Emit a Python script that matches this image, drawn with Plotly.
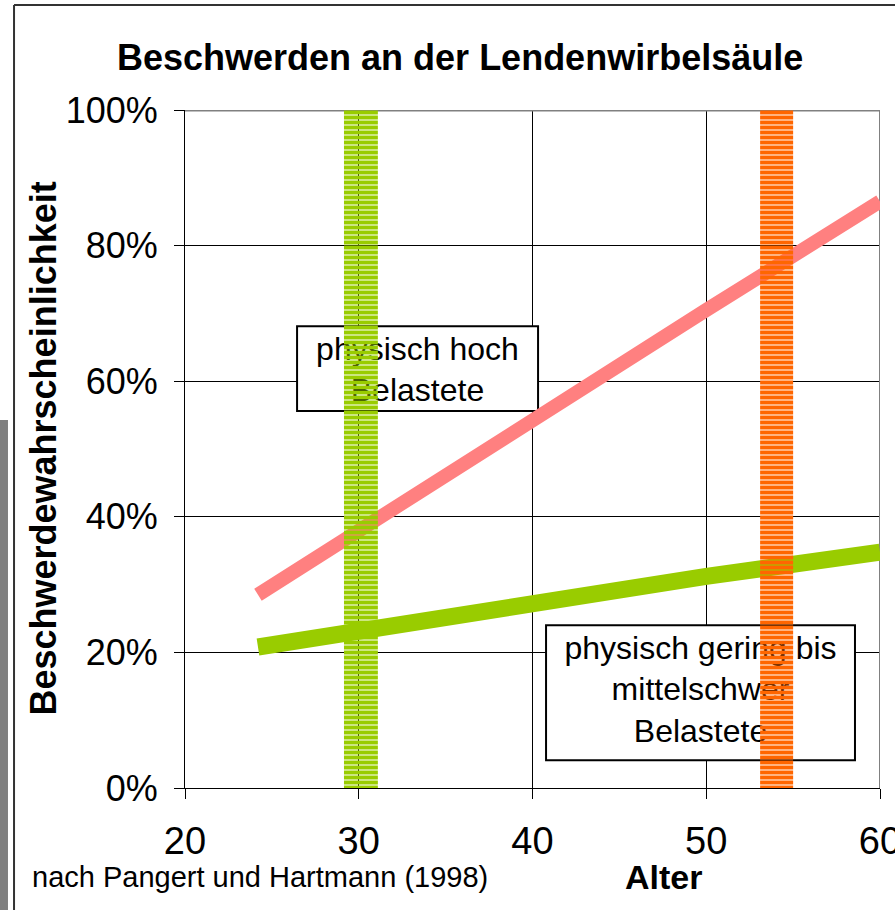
import plotly.graph_objects as go

# ---- data ----
age = [24.2, 30, 40, 50, 60]
high_load = [0.285, 0.38, 0.54, 0.705, 0.865]      # physisch hoch Belastete
low_load = [0.208, 0.232, 0.27, 0.312, 0.348]      # physisch gering bis mittelschwer Belastete
band_green = [29.15, 31.1]
band_orange = [53.1, 55.0]
x_ticks = [20, 30, 40, 50, 60]
y_ticks = [0, 0.2, 0.4, 0.6, 0.8, 1.0]

FONT = "Liberation Sans, Arial, sans-serif"
RED = "#FF8080"
GREEN = "#99CC00"
ORANGE = "#FF6600"

fig = go.Figure()

# text inside boxes
fig.add_trace(go.Scatter(
    x=[33.38, 49.67], y=[0.613, 0.141], mode="text",
    text=["physisch hoch<br>Belastete", "physisch gering bis<br>mittelschwer<br>Belastete"],
    textposition="middle center",
    textfont=dict(family=FONT, size=32, color="black"),
    hoverinfo="skip", showlegend=False))

# lines
fig.add_trace(go.Scatter(x=age, y=high_load, mode="lines",
                         line=dict(color=RED, width=14), showlegend=False))
fig.add_trace(go.Scatter(x=age, y=low_load, mode="lines",
                         line=dict(color=GREEN, width=17), showlegend=False))

# striped bands
for band, col in [(band_green, GREEN), (band_orange, ORANGE)]:
    fig.add_trace(go.Scatter(
        x=[band[0], band[1], band[1], band[0], band[0]],
        y=[-0.02, -0.02, 1.005, 1.005, -0.02],
        mode="none", fill="toself", fillcolor="rgba(0,0,0,0)",
        fillpattern=dict(shape="-", fgcolor=col, bgcolor="rgba(0,0,0,0)",
                         size=5, solidity=0.8, fillmode="replace"),
        hoverinfo="skip", showlegend=False))

shapes = [
    # text boxes
    dict(type="rect", xref="x", yref="y", x0=26.45, x1=40.32, y0=0.556, y1=0.681,
         fillcolor="white", line=dict(color="black", width=2), layer="between"),
    dict(type="rect", xref="x", yref="y", x0=40.78, x1=58.56, y0=0.041, y1=0.240,
         fillcolor="white", line=dict(color="black", width=2), layer="between"),
    # gray top/right border of plot area
    dict(type="line", xref="x", yref="y", x0=20, x1=60, y0=1, y1=1,
         line=dict(color="#808080", width=3), layer="between"),
    dict(type="line", xref="x", yref="y", x0=60, x1=60, y0=0, y1=1,
         line=dict(color="#808080", width=2), layer="between"),
    # outer frame
    dict(type="line", xref="paper", yref="paper", x0=-0.246, x1=1.03, y0=1.155, y1=1.155,
         line=dict(color="#333333", width=2)),
    dict(type="line", xref="paper", yref="paper", x0=-0.246, x1=-0.246, y0=1.155, y1=-0.2,
         line=dict(color="#333333", width=2)),
    # gray bar at left
    dict(type="rect", xref="paper", yref="paper", x0=-0.28, x1=-0.2547, y0=0.5428, y1=-0.2,
         fillcolor="#808080", line=dict(width=0)),
]

annotations = [
    dict(text="<b>Beschwerden an der Lendenwirbelsäule</b>", xref="paper", yref="paper",
         x=0.3957, y=1.078, xanchor="center", yanchor="middle", showarrow=False,
         font=dict(family=FONT, size=36, color="black")),
    dict(text="<b>Beschwerdewahrscheinlichkeit</b>", xref="paper", yref="paper",
         x=-0.204, y=0.501, xanchor="center", yanchor="middle", textangle=-90, showarrow=False,
         font=dict(family=FONT, size=36, color="black")),
    dict(text="<b>Alter</b>", xref="paper", yref="paper",
         x=0.689, y=-0.131, xanchor="center", yanchor="middle", showarrow=False,
         font=dict(family=FONT, size=34, color="black")),
    dict(text="nach Pangert und Hartmann (1998)", xref="paper", yref="paper",
         x=-0.223, y=-0.131, xanchor="left", yanchor="middle", showarrow=False,
         font=dict(family=FONT, size=29, color="black")),
]

fig.update_layout(
    width=895, height=910, autosize=False,
    margin=dict(l=185, r=15, t=110, b=122),
    paper_bgcolor="white", plot_bgcolor="white",
    shapes=shapes, annotations=annotations,
    showlegend=False,
    font=dict(family=FONT, color="black"),
)
fig.update_xaxes(range=[20, 60], tickvals=x_ticks, ticks="outside", ticklen=10,
                 tickcolor="black", showgrid=True, gridcolor="black", gridwidth=1,
                 showline=True, linecolor="black", linewidth=1, zeroline=False,
                 automargin=False, ticklabeloverflow="allow", ticklabelstandoff=9,
                 tickfont=dict(family=FONT, size=38, color="black"))
fig.update_yaxes(range=[0, 1], tickvals=y_ticks, tickformat=".0%", ticks="outside", ticklen=10,
                 tickcolor="black", showgrid=True, gridcolor="black", gridwidth=1,
                 showline=True, linecolor="black", linewidth=1, zeroline=False,
                 automargin=False, ticklabeloverflow="allow", ticklabelstandoff=9,
                 tickfont=dict(family=FONT, size=36, color="black"))

fig.write_html("out.html", config={"displayModeBar": False},
               post_script="document.body.style.margin='0px';")
